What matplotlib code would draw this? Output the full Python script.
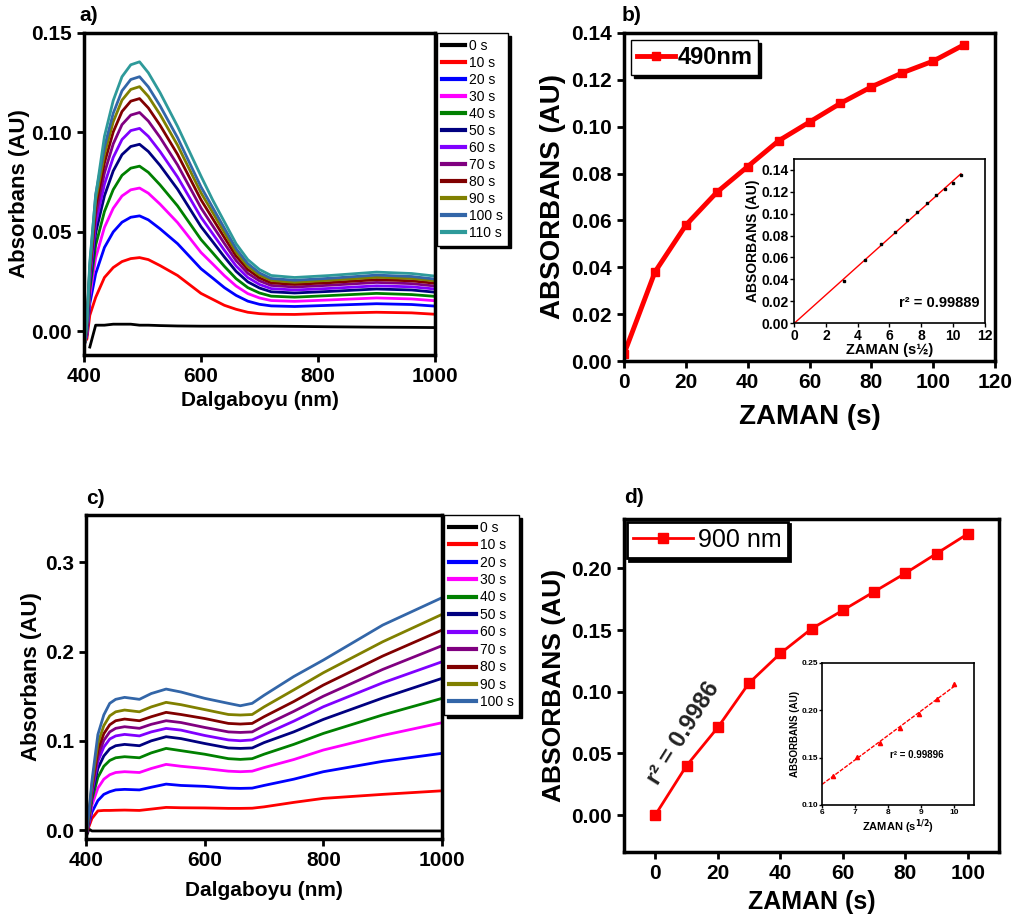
import numpy as np
import matplotlib.pyplot as plt
from matplotlib.ticker import FormatStrFormatter

plt.rcParams['font.family'] = ['Liberation Sans', 'DejaVu Sans']
plt.rcParams['font.weight'] = 'bold'
plt.rcParams['axes.labelweight'] = 'bold'

nan = np.nan

# ---- panel a: spectra (490 nm band)
wl_a = [400, 405, 410, 420, 435, 450, 465, 480, 495, 510, 530, 560, 600, 620, 640, 660, 680, 700, 720, 760, 820, 900, 960, 1000]
a_0s = [nan, nan, -0.008, 0.003, 0.003, 0.0035, 0.0035, 0.0035, 0.003, 0.003, 0.0028, 0.0026, 0.0025, 0.0025, 0.0025, 0.0025, 0.0025, 0.0025, 0.0025, 0.0024, 0.0022, 0.002, 0.0019, 0.0018]
a_10s = [-0.006, -0.004, 0.008, 0.017, 0.027, 0.032, 0.035, 0.0365, 0.037, 0.036, 0.033, 0.028, 0.019, 0.016, 0.013, 0.011, 0.0095, 0.0088, 0.0085, 0.0084, 0.009, 0.0095, 0.0092, 0.0085]
a_20s = [-0.0069, -0.0021, 0.0138, 0.0289, 0.0421, 0.0499, 0.0548, 0.0573, 0.058, 0.056, 0.0515, 0.044, 0.0314, 0.0267, 0.0219, 0.018, 0.0151, 0.0135, 0.0127, 0.0124, 0.013, 0.0138, 0.0134, 0.0126]
a_30s = [-0.0074, -0.0008, 0.0176, 0.0369, 0.0522, 0.0618, 0.068, 0.0711, 0.072, 0.0694, 0.0639, 0.0546, 0.0396, 0.0338, 0.0279, 0.0227, 0.0189, 0.0167, 0.0154, 0.015, 0.0157, 0.0167, 0.0162, 0.0153]
a_40s = [-0.0079, 0.0002, 0.0206, 0.0432, 0.0602, 0.0712, 0.0784, 0.082, 0.083, 0.0799, 0.0736, 0.063, 0.0461, 0.0394, 0.0326, 0.0264, 0.0219, 0.0192, 0.0176, 0.0171, 0.0179, 0.019, 0.0184, 0.0175]
a_50s = [-0.0083, 0.0012, 0.0236, 0.0494, 0.0681, 0.0806, 0.0888, 0.0929, 0.094, 0.0904, 0.0834, 0.0714, 0.0526, 0.045, 0.0373, 0.0301, 0.0248, 0.0217, 0.0198, 0.0192, 0.02, 0.0212, 0.0207, 0.0196]
a_60s = [-0.0086, 0.0019, 0.0258, 0.054, 0.0739, 0.0874, 0.0964, 0.1009, 0.102, 0.098, 0.0904, 0.0775, 0.0573, 0.049, 0.0407, 0.0328, 0.027, 0.0235, 0.0214, 0.0207, 0.0215, 0.0228, 0.0223, 0.0212]
a_70s = [-0.009, 0.0027, 0.028, 0.0585, 0.0796, 0.0942, 0.1039, 0.1087, 0.11, 0.1057, 0.0975, 0.0836, 0.062, 0.053, 0.0441, 0.0355, 0.0291, 0.0253, 0.023, 0.0222, 0.0231, 0.0245, 0.0239, 0.0227]
a_80s = [-0.0092, 0.0033, 0.0299, 0.0625, 0.0847, 0.1002, 0.1105, 0.1157, 0.117, 0.1123, 0.1036, 0.0889, 0.0661, 0.0566, 0.0471, 0.0378, 0.031, 0.0268, 0.0243, 0.0235, 0.0244, 0.0259, 0.0253, 0.0241]
a_90s = [-0.0095, 0.0039, 0.0316, 0.0659, 0.089, 0.1053, 0.1162, 0.1216, 0.123, 0.1181, 0.109, 0.0935, 0.0696, 0.0597, 0.0497, 0.0398, 0.0326, 0.0282, 0.0255, 0.0246, 0.0256, 0.0271, 0.0265, 0.0253]
a_100s = [-0.0097, 0.0043, 0.033, 0.0687, 0.0926, 0.1096, 0.1209, 0.1266, 0.128, 0.1229, 0.1134, 0.0973, 0.0726, 0.0622, 0.0518, 0.0415, 0.034, 0.0293, 0.0265, 0.0256, 0.0266, 0.0282, 0.0275, 0.0262]
a_110s = [-0.01, 0.005, 0.035, 0.068, 0.098, 0.116, 0.128, 0.134, 0.1355, 0.13, 0.12, 0.103, 0.078, 0.066, 0.055, 0.044, 0.036, 0.031, 0.028, 0.027, 0.028, 0.0297, 0.029, 0.0277]

# ---- panel b: kinetics at 490 nm
t_b = [0, 10, 20, 30, 40, 50, 60, 70, 80, 90, 100, 110]
abs_b = [0.003, 0.038, 0.058, 0.072, 0.083, 0.094, 0.102, 0.110, 0.117, 0.123, 0.128, 0.135]

# ---- panel c: spectra (900 nm band)
wl_c = [400, 405, 410, 420, 430, 440, 450, 465, 490, 510, 535, 560, 600, 640, 660, 680, 700, 750, 800, 900, 1000]
c_0s = [-0.008, 0.001, -0.001, -0.001, -0.001, -0.001, -0.001, -0.001, -0.001, -0.001, -0.001, -0.001, -0.001, -0.001, -0.001, -0.001, -0.001, -0.001, -0.001, -0.001, -0.001]
c_10s = [-0.005, 0.004, 0.013, 0.0215, 0.022, 0.022, 0.0222, 0.0224, 0.022, 0.0235, 0.0254, 0.025, 0.0248, 0.0243, 0.0243, 0.0245, 0.026, 0.031, 0.0355, 0.040, 0.044]
c_20s = [-0.006, 0.007, 0.020, 0.033, 0.040, 0.043, 0.045, 0.0456, 0.045, 0.048, 0.0515, 0.050, 0.049, 0.047, 0.0467, 0.047, 0.050, 0.057, 0.0654, 0.077, 0.086]
c_30s = [-0.007, 0.009, 0.028, 0.047, 0.057, 0.062, 0.0645, 0.0654, 0.0645, 0.069, 0.0736, 0.0715, 0.069, 0.066, 0.0654, 0.066, 0.070, 0.079, 0.0897, 0.106, 0.1203]
c_40s = [-0.007, 0.011, 0.034, 0.059, 0.0715, 0.078, 0.081, 0.0822, 0.081, 0.0865, 0.0915, 0.089, 0.085, 0.080, 0.0792, 0.080, 0.085, 0.096, 0.1083, 0.129, 0.1476]
c_50s = [-0.007, 0.013, 0.039, 0.069, 0.083, 0.091, 0.0945, 0.096, 0.0945, 0.100, 0.1046, 0.1025, 0.097, 0.092, 0.0915, 0.092, 0.098, 0.110, 0.124, 0.148, 0.170]
c_60s = [-0.007, 0.014, 0.042, 0.077, 0.093, 0.102, 0.1055, 0.1072, 0.1055, 0.110, 0.1139, 0.112, 0.106, 0.101, 0.1001, 0.101, 0.107, 0.122, 0.1382, 0.165, 0.1886]
c_70s = [-0.007, 0.015, 0.045, 0.083, 0.1005, 0.110, 0.114, 0.1158, 0.114, 0.1185, 0.1225, 0.1205, 0.115, 0.110, 0.1094, 0.110, 0.117, 0.133, 0.150, 0.180, 0.2066]
c_80s = [-0.007, 0.016, 0.048, 0.090, 0.108, 0.118, 0.1225, 0.1244, 0.1225, 0.127, 0.1319, 0.1295, 0.125, 0.1195, 0.1188, 0.1195, 0.127, 0.144, 0.1625, 0.195, 0.2241]
c_90s = [-0.007, 0.018, 0.051, 0.097, 0.117, 0.128, 0.1325, 0.1345, 0.1325, 0.138, 0.1431, 0.1405, 0.135, 0.1295, 0.1289, 0.1295, 0.138, 0.157, 0.1763, 0.211, 0.2417]
c_100s = [-0.007, 0.020, 0.055, 0.107, 0.129, 0.142, 0.1465, 0.1487, 0.1465, 0.153, 0.158, 0.1547, 0.1476, 0.142, 0.1393, 0.142, 0.151, 0.172, 0.1905, 0.2297, 0.2604]

# ---- panel d: kinetics at 900 nm
t_d = [0, 10, 20, 30, 40, 50, 60, 70, 80, 90, 100]
abs_d = [0.000, 0.040, 0.071, 0.107, 0.131, 0.151, 0.166, 0.181, 0.196, 0.212, 0.228]

labels_a = ['0 s', '10 s', '20 s', '30 s', '40 s', '50 s', '60 s', '70 s', '80 s', '90 s', '100 s', '110 s']
colors = ['#000000', '#FF0000', '#0000FF', '#FF00FF', '#008000', '#000080',
          '#8000FF', '#800080', '#800000', '#808000', '#3366A8', '#2E9A9A']
rows_a = [a_0s, a_10s, a_20s, a_30s, a_40s, a_50s, a_60s, a_70s, a_80s, a_90s, a_100s, a_110s]
rows_c = [c_0s, c_10s, c_20s, c_30s, c_40s, c_50s, c_60s, c_70s, c_80s, c_90s, c_100s]


def style(ax, size, lw=2.5):
    for s in ax.spines.values():
        s.set_linewidth(lw)
    ax.tick_params(direction='out', length=5, width=2, labelsize=size)


shadow = {'color': 'black', 'alpha': 1.0}

fig = plt.figure(figsize=(10.19, 9.24), dpi=100)

# a)
ax = fig.add_axes([0.0824, 0.6158, 0.3445, 0.3485])
for y, lab, col in zip(rows_a, labels_a, colors):
    ax.plot(wl_a, y, color=col, lw=2, label=lab)
ax.set_xlim(400, 1000)
ax.set_ylim(-0.012, 0.15)
ax.set_xticks([400, 600, 800, 1000])
ax.set_yticks([0, 0.05, 0.10, 0.15])
ax.yaxis.set_major_formatter(FormatStrFormatter('%.2f'))
style(ax, 15)
ax.set_xlabel('Dalgaboyu (nm)', fontsize=15, labelpad=4)
ax.set_ylabel('Absorbans (AU)', fontsize=16, labelpad=1)
leg = ax.legend(loc='upper left', bbox_to_anchor=(1.005, 1.0), borderaxespad=0, handlelength=1.6,
                handletextpad=0.3, labelspacing=0.22, borderpad=0.4, fancybox=False,
                edgecolor='black', shadow=shadow, prop={'weight': 'normal', 'size': 10})
leg.get_frame().set_linewidth(1)
for h in leg.get_lines():
    h.set_linewidth(3)
fig.text(0.078, 0.983, 'a)', fontsize=15, ha='left', va='center')

# b)
ax = fig.add_axes([0.6124, 0.6093, 0.3641, 0.355])
ax.plot(t_b, abs_b, color='#FF0000', lw=3.5, marker='s', ms=6, label='490nm')
ax.set_xlim(0, 120)
ax.set_ylim(0, 0.14)
ax.set_xticks(range(0, 121, 20))
ax.set_yticks(np.arange(0, 0.141, 0.02))
ax.yaxis.set_major_formatter(FormatStrFormatter('%.2f'))
style(ax, 15)
ax.set_xlabel('ZAMAN (s)', fontsize=20, labelpad=9)
ax.set_ylabel('ABSORBANS (AU)', fontsize=20, labelpad=4)
leg = ax.legend(loc='upper left', fontsize=17, handlelength=1.6, numpoints=1, borderpad=0.25,
                borderaxespad=0.3, handletextpad=0.1, fancybox=False, edgecolor='black', shadow=shadow)
leg.get_frame().set_linewidth(1)
fig.text(0.610, 0.983, 'b)', fontsize=15, ha='left', va='center')

# b) inset
axi = fig.add_axes([0.7792, 0.6504, 0.1874, 0.1775])
xs_b = np.sqrt(t_b[1:])
fit_b = np.polyfit(xs_b, abs_b[1:], 1)
xf = np.array([0, xs_b[-1]])
axi.plot(xf, np.polyval(fit_b, xf), color='#FF0000', lw=1)
axi.plot(xs_b, abs_b[1:], 's', color='black', ms=2)
axi.set_xlim(0, 12)
axi.set_ylim(0, 0.15)
axi.set_xticks(range(0, 13, 2))
axi.set_yticks(np.arange(0, 0.141, 0.02))
axi.yaxis.set_major_formatter(FormatStrFormatter('%.2f'))
style(axi, 10, lw=1.2)
axi.tick_params(length=3, width=1, pad=1)
axi.set_xlabel('ZAMAN (s½)', fontsize=10.5, labelpad=0)
axi.set_ylabel('ABSORBANS (AU)', fontsize=10, labelpad=1)
axi.text(0.97, 0.08, 'r² = 0.99889', transform=axi.transAxes, ha='right', va='bottom', fontsize=10.5)

# c)
ax = fig.add_axes([0.0844, 0.0920, 0.3494, 0.3506])
for y, lab, col in zip(rows_c, labels_a[:11], colors[:11]):
    ax.plot(wl_c, y, color=col, lw=2, label=lab)
ax.set_xlim(400, 1000)
ax.set_ylim(-0.01, 0.353)
ax.set_xticks([400, 600, 800, 1000])
ax.set_yticks([0, 0.1, 0.2, 0.3])
ax.yaxis.set_major_formatter(FormatStrFormatter('%.1f'))
style(ax, 15)
ax.set_xlabel('Dalgaboyu (nm)', fontsize=15, labelpad=8)
ax.set_ylabel('Absorbans (AU)', fontsize=16, labelpad=2)
leg = ax.legend(loc='upper left', bbox_to_anchor=(1.005, 1.0), borderaxespad=0, handlelength=1.9,
                handletextpad=0.3, labelspacing=0.25, borderpad=0.4, fancybox=False,
                edgecolor='black', shadow=shadow, prop={'weight': 'normal', 'size': 10})
leg.get_frame().set_linewidth(1)
for h in leg.get_lines():
    h.set_linewidth(3)
fig.text(0.085, 0.460, 'c)', fontsize=15, ha='left', va='center')

# d)
ax = fig.add_axes([0.6124, 0.0779, 0.368, 0.3604])
ax.plot(t_d, abs_d, color='#FF0000', lw=2, marker='s', ms=7, label='900 nm')
ax.set_xlim(-10, 110)
ax.set_ylim(-0.03, 0.24)
ax.set_xticks(range(0, 101, 20))
ax.set_yticks([0, 0.05, 0.10, 0.15, 0.20])
ax.yaxis.set_major_formatter(FormatStrFormatter('%.2f'))
style(ax, 15)
ax.set_xlabel('ZAMAN (s)', fontsize=18, labelpad=5)
ax.set_ylabel('ABSORBANS (AU)', fontsize=19, labelpad=4)
ax.text(9, 0.066, 'r² = 0.9986', rotation=58, ha='center', va='center', fontsize=17, color='#222222')
leg = ax.legend(loc='upper left', fontsize=18, handlelength=2.4, numpoints=1, borderpad=0.25,
                borderaxespad=0.1, handletextpad=0.2, fancybox=False, edgecolor='black', shadow=shadow,
                prop={'weight': 'normal', 'size': 18})
leg.get_frame().set_linewidth(2)
fig.text(0.612, 0.462, 'd)', fontsize=15, ha='left', va='center')

# d) inset
axi = fig.add_axes([0.8067, 0.1288, 0.1492, 0.1537])
xs_d = np.sqrt(t_d[4:])
fit_d = np.polyfit(xs_d, abs_d[4:], 1)
xf = np.array([6, xs_d[-1]])
axi.plot(xf, np.polyval(fit_d, xf), color='#FF0000', lw=1, ls=(0, (3, 1)))
axi.plot(xs_d, abs_d[4:], '^', color='#FF0000', ms=3)
axi.set_xlim(6, 10.6)
axi.set_ylim(0.10, 0.25)
axi.set_xticks([6, 7, 8, 9, 10])
axi.set_yticks([0.10, 0.15, 0.20, 0.25])
axi.yaxis.set_major_formatter(FormatStrFormatter('%.2f'))
style(axi, 6, lw=1.2)
axi.tick_params(length=2, width=1, pad=1)
axi.set_xlabel('ZAMAN (s$^{1/2}$)', fontsize=8, labelpad=1)
axi.set_ylabel('ABSORBANS (AU)', fontsize=7, labelpad=1)
axi.text(0.45, 0.35, 'r² = 0.99896', transform=axi.transAxes, ha='left', va='center', fontsize=7)

fig.savefig('out.png', dpi=100)
